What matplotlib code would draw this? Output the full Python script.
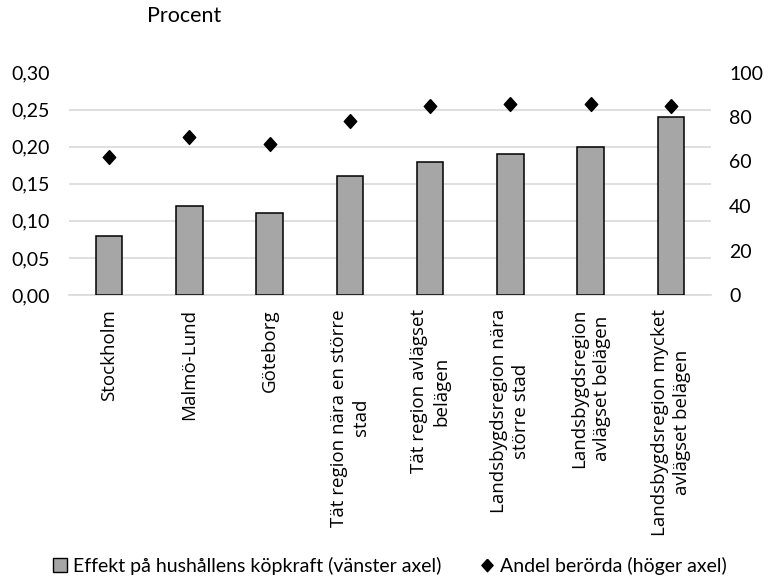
import matplotlib
matplotlib.use("Agg")
import matplotlib.pyplot as plt
from matplotlib.ticker import FuncFormatter
from matplotlib.lines import Line2D
from matplotlib.patches import Patch

categories = [
    "Stockholm",
    "Malmö-Lund",
    "Göteborg",
    "Tät region nära en större\nstad",
    "Tät region avlägset\nbelägen",
    "Landsbygdsregion nära\nstörre stad",
    "Landsbygdsregion\navlägset belägen",
    "Landsbygdsregion mycket\navlägset belägen",
]
effekt = [0.08, 0.12, 0.11, 0.16, 0.18, 0.19, 0.20, 0.24]
andel = [62, 71, 68, 78, 85, 86, 86, 85]

left_ticks = [0.00, 0.05, 0.10, 0.15, 0.20, 0.25, 0.30]
right_ticks = [0, 20, 40, 60, 80, 100]

label_effekt = "Effekt på hushållens köpkraft (vänster axel)"
label_andel = "Andel berörda (höger axel)"
unit_label = "Procent"

tick_font = "Lato"
cat_font = "Open Sans"
fs = 14

fig = plt.figure(figsize=(7.69, 5.82), dpi=100)
ax = fig.add_axes([69/769, 1-295/582, (711-69)/769, (295-72.5)/582])
ax2 = ax.twinx()

x = list(range(len(categories)))
ax.bar(x, effekt, width=0.33, color="#A6A6A6", edgecolor="black", linewidth=1.1, zorder=3)
diamond = [(0, 1), (0.9, 0), (0, -1), (-0.9, 0), (0, 1)]
ax2.plot(x, andel, linestyle="none", marker=diamond, markersize=10, color="black", zorder=4)

ax.set_xlim(-0.5, len(categories) - 0.5)
ax.set_ylim(0, 0.30)
ax.set_yticks(left_ticks)
ax.yaxis.set_major_formatter(FuncFormatter(lambda v, p: f"{v:.2f}".replace(".", ",")))
ax2.set_ylim(0, 100)
ax2.set_yticks(right_ticks)

ax.grid(axis="y", color="#D9D9D9", linewidth=1.2, zorder=0)
ax.set_axisbelow(True)
for a in (ax, ax2):
    for s in a.spines.values():
        s.set_visible(False)
    a.tick_params(length=0)
ax.spines["bottom"].set_visible(True)
ax.spines["bottom"].set_color("#D9D9D9")
ax.spines["bottom"].set_linewidth(1.2)

for lab in ax.get_yticklabels() + ax2.get_yticklabels():
    lab.set_fontfamily(tick_font)
    lab.set_fontsize(fs)
ax.tick_params(axis="y", pad=14)
ax2.tick_params(axis="y", pad=13)

ax.set_xticks(x)
ax.set_xticklabels(categories, rotation=90, ha="center", va="top", multialignment="center",
                   fontfamily=cat_font, fontsize=13.5, linespacing=1.3)
ax.tick_params(axis="x", pad=10)

fig.text(147/769, 1-16/582, unit_label, fontfamily=tick_font, fontsize=15.5, ha="left", va="center")

handles = [
    Patch(facecolor="#A6A6A6", edgecolor="black", linewidth=1.0),
    Line2D([], [], linestyle="none", marker=diamond, markersize=9, color="black"),
]
fig.legend(handles, [label_effekt, label_andel], loc="center", bbox_to_anchor=(0.507, 1-566/582),
           ncol=2, frameon=False, prop={"family": tick_font, "size": fs},
           handlelength=0.7, handleheight=0.7, handletextpad=0.3, columnspacing=2.0)

fig.savefig("out.png", dpi=100)
